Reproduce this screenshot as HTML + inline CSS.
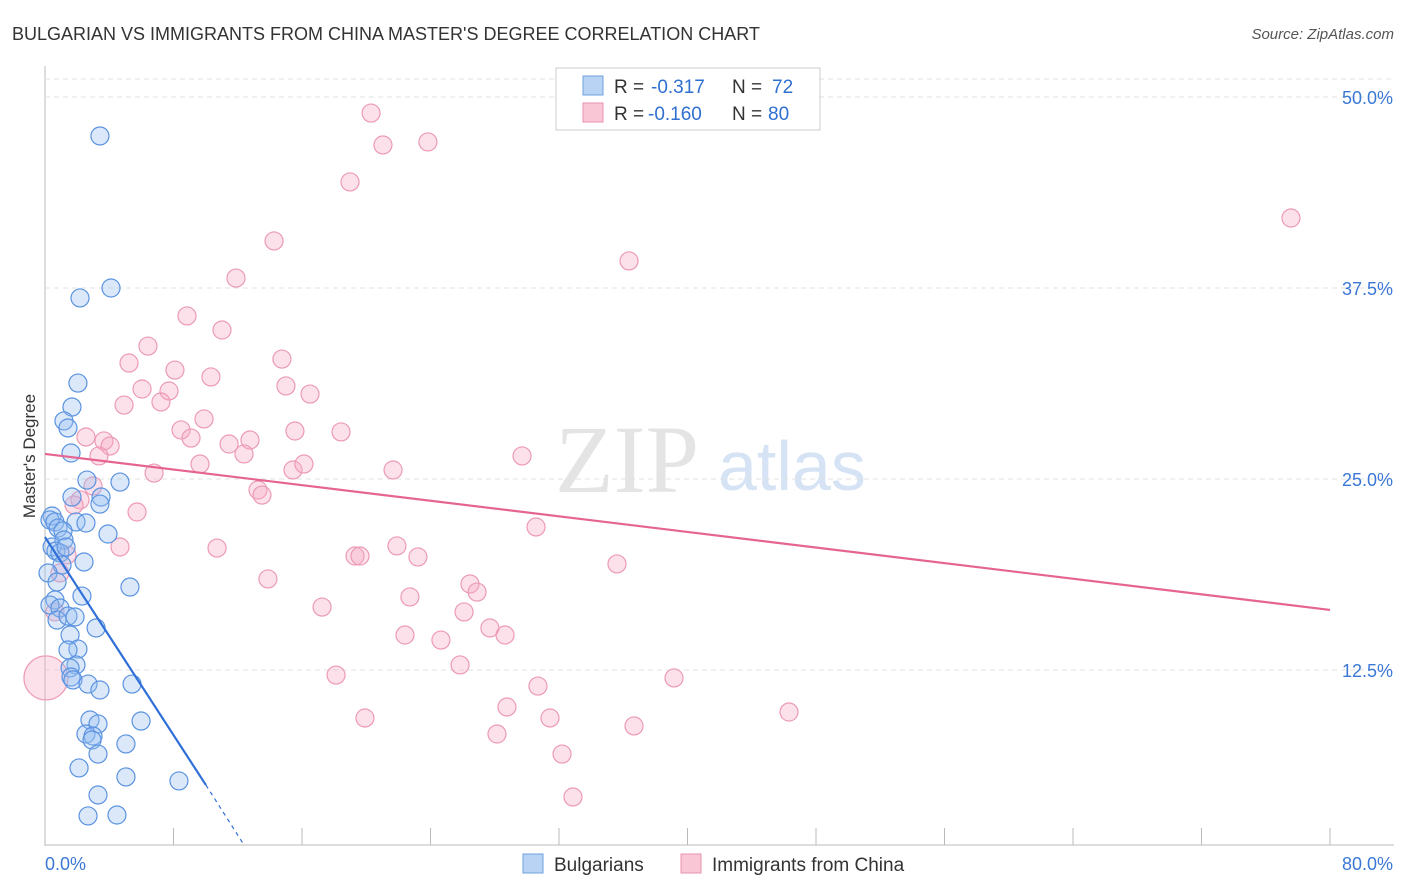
<!DOCTYPE html>
<html><head><meta charset="utf-8"><style>
body{margin:0;background:#fff;font-family:"Liberation Sans",sans-serif}
svg{display:block}
</style></head><body>
<svg id="c" width="1406" height="892">
<text x="12" y="40" font-size="18" fill="#333">BULGARIAN VS IMMIGRANTS FROM CHINA MASTER'S DEGREE CORRELATION CHART</text>
<text x="1394" y="39" font-size="15" fill="#555" font-style="italic" text-anchor="end">Source: ZipAtlas.com</text>
<text x="35" y="456" font-size="17" fill="#333" transform="rotate(-90 35 456)" text-anchor="middle">Master's Degree</text>
<text x="555" y="492" font-size="96" fill="#e4e4e4" font-family="Liberation Serif">ZIP</text>
<text x="718" y="490" font-size="70" fill="#d6e3f5">atlas</text>
<g id="grid"></g><g id="pts"></g><g id="lines"></g>
<g>
<rect x="556" y="68" width="264" height="62" fill="#fff" stroke="#ccc"/>
<rect x="583" y="76" width="20" height="19" fill="#b9d3f5" stroke="#6fa0e0"/>
<rect x="583" y="103" width="20" height="19" fill="#f9c6d6" stroke="#e891ae"/>
<text y="93" font-size="19" fill="#333"><tspan x="614">R =</tspan><tspan x="651" fill="#2f6fd0">-0.317</tspan><tspan x="732">N =</tspan><tspan x="772" fill="#2f6fd0">72</tspan></text>
<text y="120" font-size="19" fill="#333"><tspan x="614">R =</tspan><tspan x="648" fill="#2f6fd0">-0.160</tspan><tspan x="732">N =</tspan><tspan x="768" fill="#2f6fd0">80</tspan></text>
</g>
<g>
<rect x="523" y="854" width="20" height="19" fill="#b9d3f5" stroke="#6fa0e0"/>
<text x="554" y="871" font-size="19" fill="#333">Bulgarians</text>
<rect x="681" y="854" width="20" height="19" fill="#f9c6d6" stroke="#e891ae"/>
<text x="712" y="871" font-size="19" fill="#333">Immigrants from China</text>
</g>
</svg>
<script>
const yTicks=[12.5,25,37.5,50];
const yTickLabels=["12.5%","25.0%","37.5%","50.0%"];
const blueX=[3.42,4.11,2.18,2.05,1.68,1.18,1.43,1.62,2.61,4.67,1.68,3.49,3.42,1.93,2.55,3.92,0.44,0.31,0.62,0.81,1.12,1.18,0.44,0.68,0.93,1.31,2.43,1.06,5.29,0.19,0.75,2.30,0.62,0.31,0.93,0.75,1.43,1.87,3.18,1.56,2.05,1.43,1.93,1.56,1.62,1.74,2.68,5.42,3.42,2.80,3.30,5.98,2.55,2.99,2.93,5.04,3.30,2.12,5.04,8.34,3.30,2.68,4.48];
const blueY=[47.45,37.50,36.85,31.28,29.71,28.80,28.34,26.70,24.93,24.80,23.82,23.82,23.36,22.19,22.12,21.40,22.58,22.32,22.19,21.79,21.60,21.01,20.55,20.29,20.16,20.55,19.57,19.37,17.93,18.85,18.26,17.34,17.08,16.75,16.56,15.77,16.03,15.97,15.25,14.79,13.87,13.81,12.83,12.63,12.04,11.85,11.58,11.58,11.19,9.23,8.97,9.16,8.31,8.18,7.92,7.66,7.00,6.09,5.50,5.24,4.32,2.95,3.01];
const pinkX=[20.30,21.04,23.84,18.99,14.26,11.89,36.36,77.57,8.84,11.02,6.41,14.75,5.23,8.09,10.33,6.04,7.72,15.00,16.50,4.92,7.22,9.90,8.47,15.56,18.43,9.09,2.55,3.67,4.05,11.46,12.76,12.39,3.36,9.65,6.79,15.44,16.12,21.67,29.70,2.99,2.18,1.81,13.26,13.51,5.73,30.57,4.67,10.71,21.91,19.30,19.61,23.22,35.61,13.88,0.93,1.37,26.46,26.90,22.72,17.25,26.09,0.62,27.70,28.64,22.41,24.65,25.84,18.12,39.16,30.69,28.76,19.92,31.44,36.67,46.32,28.14,32.19,32.87,0.06];
const pinkY=[48.95,46.86,47.06,44.44,40.58,38.15,39.27,42.08,35.67,34.75,33.70,32.85,32.59,32.13,31.68,30.89,30.76,31.09,30.56,29.84,30.04,28.93,28.21,28.14,28.08,27.68,27.75,27.49,27.16,27.29,27.55,26.64,26.51,25.98,25.39,25.59,25.98,25.59,26.51,24.54,23.63,23.30,24.28,23.95,22.84,21.86,20.55,20.48,20.62,19.96,19.96,19.90,19.44,18.46,18.85,20.03,18.13,17.60,17.28,16.62,16.30,16.30,15.25,14.79,14.79,14.46,12.83,12.17,11.98,11.45,10.08,9.36,9.36,8.84,9.75,8.31,7.00,4.19,11.98];
const X=v=>45+v/80*1285, Y=v=>861-v/12.5*191;
const NS="http://www.w3.org/2000/svg";
function mk(tag,attrs,parent){const e=document.createElementNS(NS,tag);for(const k in attrs)e.setAttribute(k,attrs[k]);parent.appendChild(e);return e;}
const grid=document.getElementById('grid'),pts=document.getElementById('pts'),lines=document.getElementById('lines');
mk('line',{x1:45,y1:66,x2:45,y2:846,stroke:'#bbb'},grid);
mk('line',{x1:45,y1:845,x2:1394,y2:845,stroke:'#bbb'},grid);
mk('line',{x1:45,y1:79,x2:1394,y2:79,stroke:'#e2e2e2','stroke-dasharray':'5,4'},grid);
yTicks.forEach((t,i)=>{
const l=mk('line',{x1:45,y1:Y(t),x2:1394,y2:Y(t),stroke:'#e2e2e2','stroke-dasharray':'5,4'},grid);


const tx=mk('text',{x:1393,y:Y(t)+7,'font-size':18,fill:'#3b78d6','text-anchor':'end'},grid);tx.textContent=yTickLabels[i];


});
for(let i=1;i<=10;i++){const l=mk('line',{x1:X(i*8),y1:828,x2:X(i*8),y2:845,stroke:'#bbb'},grid);

}
let t0=mk('text',{x:45,y:870,'font-size':18,fill:'#3b78d6'},grid);t0.textContent='0.0%';


let t1=mk('text',{x:1393,y:870,'font-size':18,fill:'#3b78d6','text-anchor':'end'},grid);t1.textContent='80.0%';


pinkX.forEach((v,i)=>{const r=i===pinkX.length-1?22:9;
const c=mk('circle',{cx:X(v),cy:Y(pinkY[i]),r:r,fill:'rgba(245,170,195,0.35)',stroke:'#ec9ab5','stroke-width':1.2},pts);

});
blueX.forEach((v,i)=>{const c=mk('circle',{cx:X(v),cy:Y(blueY[i]),r:9,fill:'rgba(150,190,240,0.35)',stroke:'#5b93e0','stroke-width':1.2},pts);

});
const pl=mk('line',{x1:X(0),y1:Y(26.64),x2:X(80),y2:Y(16.43),stroke:'#e5658f','stroke-width':2.2},lines);


const bl=mk('line',{x1:X(0),y1:Y(21.2),x2:X(10.02),y2:Y(4.97),stroke:'#2f6fd8','stroke-width':2.2},lines);


const bd=mk('line',{x1:X(10.02),y1:Y(4.97),x2:X(12.39),y2:Y(1.05),stroke:'#2f6fd8','stroke-width':1.2,'stroke-dasharray':'4,4'},lines);


</script>
</body></html>
